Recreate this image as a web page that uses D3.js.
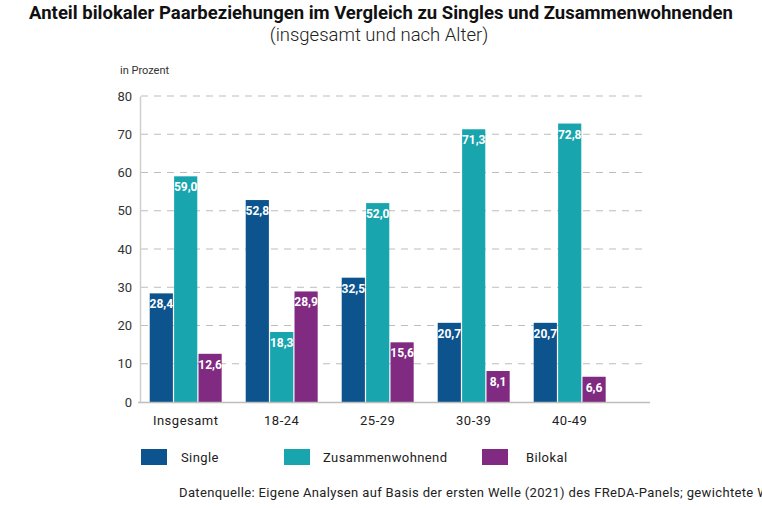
<!DOCTYPE html>
<html>
<head>
<meta charset="utf-8">
<script src="https://cdn.jsdelivr.net/npm/d3@7"></script>
<style>
  body { margin: 0; background: #fff; }
  svg text { font-family: Roboto, "DejaVu Sans", sans-serif; }
</style>
</head>
<body>
<svg id="chart" width="762" height="508"></svg>
<script>
// data
var categories = ['Insgesamt', '18-24', '25-29', '30-39', '40-49'];
var seriesNames = ['Single', 'Zusammenwohnend', 'Bilokal'];
var single = [28.4, 52.8, 32.5, 20.7, 20.7];
var zusammen = [59.0, 18.3, 52.0, 71.3, 72.8];
var bilokal = [12.6, 28.9, 15.6, 8.1, 6.6];
var yTicks = [0, 10, 20, 30, 40, 50, 60, 70, 80];

var colors = ['#0d548f', '#19a5ad', '#802a82'];

var svg = d3.select('#chart');

// title
svg.append('text')
   .attr('x', 381).attr('y', 19)
   .attr('text-anchor', 'middle')
   .attr('font-size', 18.5).attr('font-weight', 'bold')
   .attr('fill', '#111')
   .text('Anteil bilokaler Paarbeziehungen im Vergleich zu Singles und Zusammenwohnenden');
svg.append('text')
   .attr('x', 379).attr('y', 41)
   .attr('text-anchor', 'middle')
   .attr('font-size', 18.5).attr('font-weight', 300)
   .attr('fill', '#222')
   .text('(insgesamt und nach Alter)');
svg.append('text')
   .attr('x', 120).attr('y', 74)
   .attr('font-size', 11)
   .attr('fill', '#333')
   .text('in Prozent');

// scales
var x = d3.scaleBand().domain(categories).range([137.7, 617.7])
          .paddingInner(0.225).paddingOuter(0.1125);
var xs = d3.scaleBand().domain(seriesNames).range([0, x.bandwidth()]).padding(0.05);
var y = d3.scaleLinear().domain([0, 80]).range([402, 96]);

// grid
svg.append('g')
   .selectAll('line').data(yTicks.filter(function(d) { return d > 0; })).enter().append('line')
   .attr('x1', 141).attr('x2', 648)
   .attr('y1', function(d) { return y(d); })
   .attr('y2', function(d) { return y(d); })
   .attr('stroke', '#bdbdbd')
   .attr('stroke-width', 1)
   .attr('stroke-dasharray', '7,6');

// y axis
var yAxis = svg.append('g')
   .attr('transform', 'translate(140,0)')
   .call(d3.axisLeft(y).tickValues(yTicks).tickSize(0).tickPadding(8));
yAxis.select('.domain').attr('stroke', '#cfcfcf').attr('stroke-width', 1.5);
yAxis.selectAll('text').attr('font-size', 13).attr('fill', '#333')
     .style('font-family', 'Roboto, sans-serif');

// bars
var groups = svg.append('g')
   .selectAll('g').data(categories).enter().append('g')
   .attr('transform', function(d) { return 'translate(' + x(d) + ',0)'; });

var rows = [single, zusammen, bilokal];
groups.selectAll('rect')
   .data(function(d, i) { return seriesNames.map(function(s, j) { return { s: s, v: rows[j][i], c: colors[j] }; }); })
   .enter().append('rect')
   .attr('x', function(d) { return xs(d.s); })
   .attr('width', xs.bandwidth())
   .attr('y', function(d) { return y(d.v); })
   .attr('height', function(d) { return y(0) - y(d.v); })
   .attr('fill', function(d) { return d.c; });

var fmt = function(v) { return d3.format('.1f')(v).replace('.', ','); };
groups.selectAll('text.val')
   .data(function(d, i) { return seriesNames.map(function(s, j) { return { s: s, v: rows[j][i] }; }); })
   .enter().append('text')
   .attr('class', 'val')
   .attr('x', function(d) { return xs(d.s) + xs.bandwidth() / 2; })
   .attr('y', function(d) { return y(d.v) + 15; })
   .attr('text-anchor', 'middle')
   .attr('font-size', 12).attr('font-weight', 'bold')
   .attr('fill', '#fff')
   .text(function(d) { return fmt(d.v); });

// baseline
svg.append('line')
   .attr('x1', 138).attr('x2', 650)
   .attr('y1', y(0) + 0.5).attr('y2', y(0) + 0.5)
   .attr('stroke', '#bdbdbd').attr('stroke-width', 1.5);

// x labels
svg.append('g')
   .selectAll('text').data(categories).enter().append('text')
   .attr('x', function(d) { return x(d) + x.bandwidth() / 2; })
   .attr('y', 425)
   .attr('text-anchor', 'middle')
   .attr('font-size', 13).attr('letter-spacing', 0.5).attr('fill', '#222')
   .text(function(d) { return d; });

// legend
var legendX = [141, 284, 482];
var legend = svg.append('g')
   .selectAll('g').data(seriesNames).enter().append('g')
   .attr('transform', function(d, i) { return 'translate(' + legendX[i] + ',449)'; });
legend.append('rect')
   .attr('width', 26).attr('height', 16)
   .attr('fill', function(d, i) { return colors[i]; });
legend.append('text')
   .attr('x', function(d, i) { return [40, 39, 44][i]; })
   .attr('y', 13)
   .attr('font-size', 13).attr('letter-spacing', 0.4).attr('fill', '#222')
   .text(function(d) { return d; });

// source
svg.append('text')
   .attr('x', 179).attr('y', 497)
   .attr('font-size', 13).attr('letter-spacing', 0.35).attr('fill', '#222')
   .text('Datenquelle: Eigene Analysen auf Basis der ersten Welle (2021) des FReDA-Panels; gewichtete Werte');
</script>
</body>
</html>
